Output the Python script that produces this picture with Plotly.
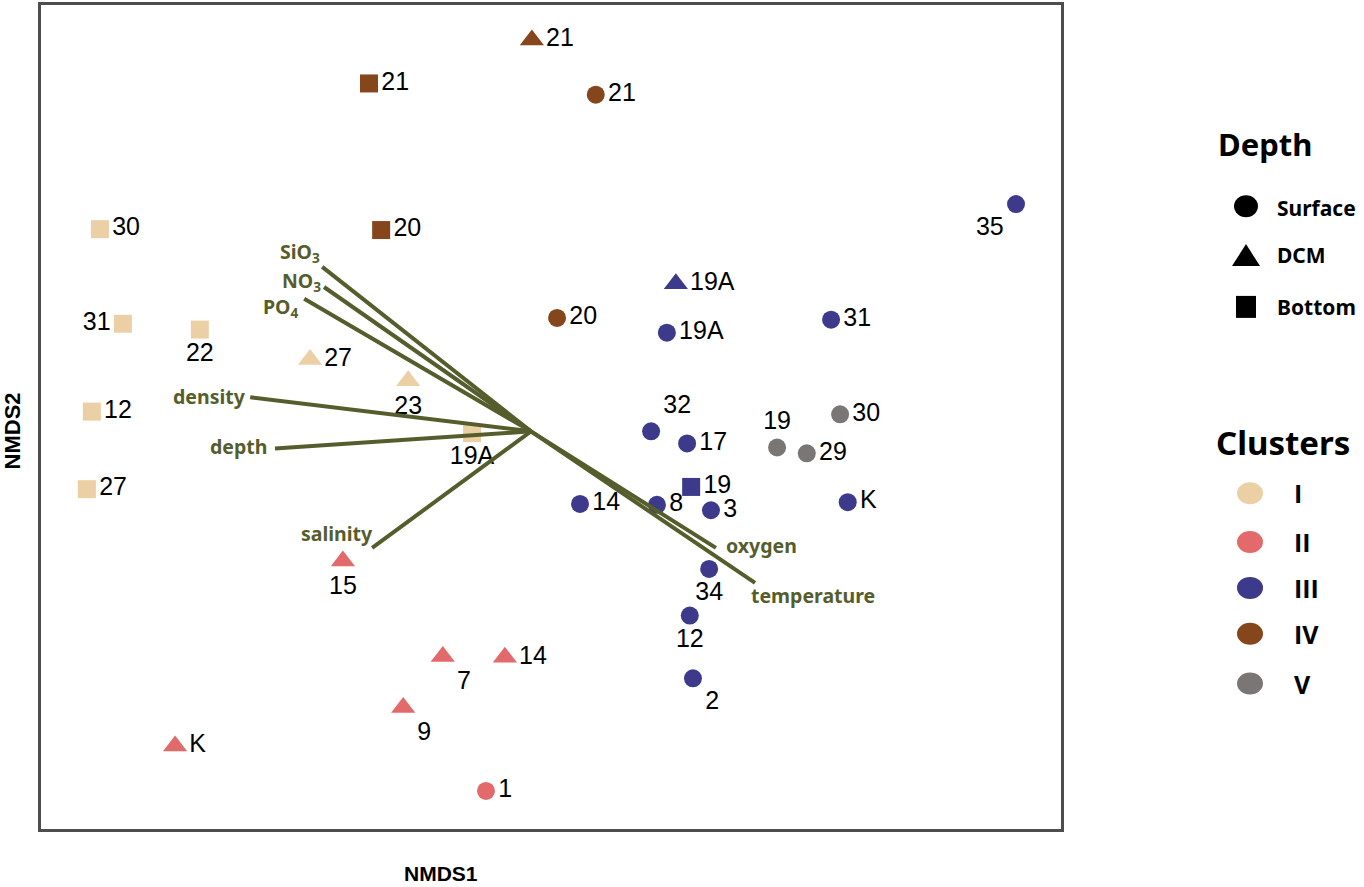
import pandas as pd
import plotly.graph_objects as go

# NMDS site scores
site = ["30", "31", "22", "12", "27", "19A", "27", "23",
        "15", "7", "14", "9", "K", "1",
        "35", "19A", "31", "32", "17", "14", "8", "3", "K", "34", "12", "2", "19A", "19",
        "21", "21", "21", "20", "20",
        "30", "19", "29"]
depth = ["Bottom", "Bottom", "Bottom", "Bottom", "Bottom", "Bottom", "DCM", "DCM",
         "DCM", "DCM", "DCM", "DCM", "DCM", "Surface",
         "Surface", "Surface", "Surface", "Surface", "Surface", "Surface", "Surface", "Surface",
         "Surface", "Surface", "Surface", "Surface", "DCM", "Bottom",
         "DCM", "Bottom", "Surface", "Bottom", "Surface",
         "Surface", "Surface", "Surface"]
cluster = ["I"] * 8 + ["II"] * 6 + ["III"] * 14 + ["IV"] * 5 + ["V"] * 3
nmds1 = [-0.958, -0.907, -0.736, -0.976, -0.987, -0.131, -0.491, -0.273,
         -0.418, -0.196, -0.058, -0.284, -0.791, -0.100,
         1.078, 0.302, 0.667, 0.267, 0.347, 0.109, 0.280, 0.400, 0.704, 0.396, 0.353, 0.360, 0.322, 0.356,
         0.002, -0.360, 0.144, -0.333, 0.058,
         0.687, 0.547, 0.613]
nmds2 = [0.451, 0.240, 0.227, 0.044, -0.129, -0.004, 0.160, 0.113,
         -0.289, -0.502, -0.504, -0.616, -0.702, -0.802,
         0.507, 0.220, 0.249, 0.000, -0.027, -0.162, -0.164, -0.176, -0.158, -0.307, -0.411, -0.551, 0.329, -0.124,
         0.873, 0.776, 0.751, 0.449, 0.253,
         0.038, -0.036, -0.049]

# fitted environmental vectors
env_vars = ["SiO<sub>3</sub>", "NO<sub>3</sub>", "PO<sub>4</sub>", "density", "depth",
            "salinity", "oxygen", "temperature"]
env_x = [-0.464, -0.460, -0.504, -0.624, -0.569, -0.353, 0.411, 0.498]
env_y = [0.367, 0.322, 0.296, 0.076, -0.038, -0.260, -0.260, -0.338]

depth_levels = ["Surface", "DCM", "Bottom"]
cluster_levels = ["I", "II", "III", "IV", "V"]

# styling
label_pos = ["middle right", "middle left", "bottom center", "middle right", "middle right",
             "bottom center", "middle right", "bottom center",
             "bottom center", "bottom right", "middle right", "bottom right", "middle right",
             "middle right",
             "bottom left", "middle right", "middle right", "top right", "middle right",
             "middle right", "middle right", "middle right", "middle right", "bottom center",
             "bottom center", "bottom right", "middle right", "middle right",
             "middle right", "middle right", "middle right", "middle right", "middle right",
             "middle right", "top center", "middle right"]
cluster_colors = {"I": "#ecd0a5", "II": "#e26a6a", "III": "#3e3a8b",
                  "IV": "#86461c", "V": "#7a7676"}
depth_symbols = {"Surface": "circle", "DCM": "triangle-up", "Bottom": "square"}
depth_sizes = {"Surface": 18, "DCM": 21, "Bottom": 18}
vec_color = "#565d2c"
# label anchor and offsets for each vector label
vec_label_style = [("right", 0, 14), ("right", -1, 5), ("right", -3, -9), ("right", -2, 1),
                   ("right", -6, 2), ("center", -35, 14), ("left", 8, 2), ("left", -6, -13)]

df = pd.DataFrame({"site": site, "depth": depth, "cluster": cluster,
                   "NMDS1": nmds1, "NMDS2": nmds2, "pos": label_pos})

W, H = 1364, 887
L, R, T, B = 41, 303, 2, 58


def px(x):
    return (x - L) / (W - L - R)


def py(y):
    return (H - B - y) / (H - T - B)


fig = go.Figure()

for cl in cluster_levels:
    for d in depth_levels:
        sub = df[(df["cluster"] == cl) & (df["depth"] == d)]
        if sub.empty:
            continue
        fig.add_trace(go.Scatter(
            x=sub["NMDS1"], y=sub["NMDS2"], mode="markers+text",
            text=sub["site"], textposition=list(sub["pos"]),
            textfont=dict(family="Liberation Sans, Arial", size=25, color="black"),
            marker=dict(symbol=depth_symbols[d], size=depth_sizes[d],
                        color=cluster_colors[cl], line=dict(width=0)),
            cliponaxis=False, showlegend=False, hoverinfo="skip"))

# vectors
vx, vy = [], []
for ex, ey in zip(env_x, env_y):
    vx += [0, ex, None]
    vy += [0, ey, None]
fig.add_trace(go.Scatter(x=vx, y=vy, mode="lines",
                         line=dict(color=vec_color, width=4),
                         showlegend=False, hoverinfo="skip"))

for name, ex, ey, (anc, dx, dy) in zip(env_vars, env_x, env_y, vec_label_style):
    fig.add_annotation(x=ex, y=ey, text="<b>" + name + "</b>", showarrow=False,
                       xanchor=anc, yanchor="middle", xshift=dx, yshift=dy,
                       font=dict(family="Noto Sans", size=19.5, color=vec_color))


def note(x, y, text, size, anchor="center", angle=0, family="Noto Sans"):
    fig.add_annotation(x=px(x), y=py(y), xref="paper", yref="paper", text=text,
                       showarrow=False, xanchor=anchor, yanchor="middle", textangle=angle,
                       font=dict(family=family, size=size, color="black"))


# axis titles
note(441, 874, "<b>NMDS1</b>", 21, family="Liberation Sans, Arial")
note(12, 430, "<b>NMDS2</b>", 22, angle=-90, family="Liberation Sans, Arial")

# legends
note(1265, 142, "<b>Depth</b>", 31)
depth_rows = [206, 253, 305]
for d, yy in zip(depth_levels, depth_rows):
    note(1275, yy, "<b>" + d + "</b>", 21, anchor="left")
sym = dict(xref="paper", yref="paper", xsizemode="pixel", ysizemode="pixel",
           fillcolor="black", line=dict(width=0))
fig.add_shape(type="circle", xanchor=px(1246), yanchor=py(204), x0=-12, x1=12, y0=-11, y1=11, **sym)
fig.add_shape(type="path", xanchor=px(1246), yanchor=py(254),
              path="M -14,-10 L 14,-10 L 0,12 Z", **sym)
fig.add_shape(type="rect", xanchor=px(1246), yanchor=py(305), x0=-10, x1=10, y0=-11, y1=11, **sym)

note(1283, 441, "<b>Clusters</b>", 33)
cluster_rows = [492, 541, 587, 633, 683]
for cl, yy in zip(cluster_levels, cluster_rows):
    fig.add_shape(type="circle", xref="paper", yref="paper", xsizemode="pixel", ysizemode="pixel",
                  xanchor=px(1250), yanchor=py(yy), x0=-13, x1=13, y0=-11, y1=11,
                  fillcolor=cluster_colors[cl], line=dict(width=0))
    note(1292, yy, "<b>" + cl + "</b>", 25, anchor="left", family="Open Sans")

axis_style = dict(showline=True, mirror=True, linecolor="#4d4d4d", linewidth=2.5,
                  showgrid=False, zeroline=False, showticklabels=False, ticks="")
fig.update_xaxes(range=[-1.089, 1.178], **axis_style)
fig.update_yaxes(range=[-0.887, 0.951], **axis_style)
fig.update_layout(width=W, height=H, margin=dict(l=L, r=R, t=T, b=B),
                  plot_bgcolor="white", paper_bgcolor="white", showlegend=False)

fig.write_html("out.html", config={"displayModeBar": False},
               post_script="document.body.style.margin = '0';")
